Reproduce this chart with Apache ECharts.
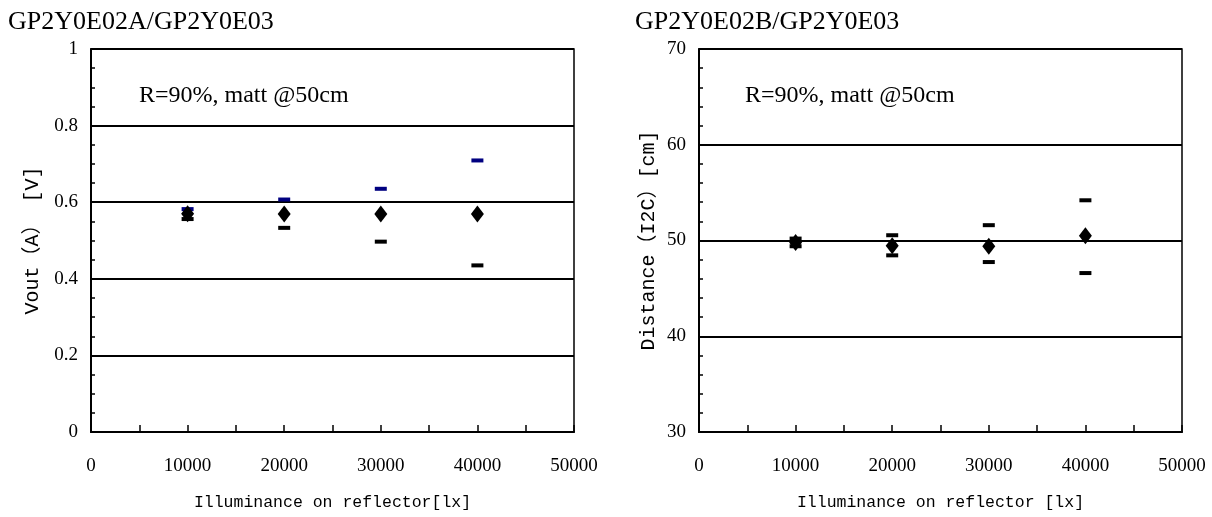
<!DOCTYPE html>
<html>
<head>
<meta charset="utf-8">
<script src="https://cdn.jsdelivr.net/npm/echarts@6/dist/echarts.min.js"></script>
<style>
html,body{margin:0;padding:0;background:#fff;}
#chart{width:1212px;height:517px;}
</style>
</head>
<body>
<div id="chart"></div>
<script>
// ---- data ----
const illuminance = [10000, 20000, 30000, 40000];

const voutAvg = [0.570, 0.569, 0.569, 0.569];
const voutMax = [0.582, 0.607, 0.635, 0.709];
const voutMin = [0.556, 0.533, 0.497, 0.435];

const distAvg = [49.8, 49.45, 49.4, 50.5];
const distMax = [50.2, 50.55, 51.6, 54.2];
const distMin = [49.4, 48.45, 47.75, 46.6];

const titles = ['GP2Y0E02A/GP2Y0E03', 'GP2Y0E02B/GP2Y0E03'];
const note = 'R=90%, matt @50cm';

// ---- helpers ----
const pairs = (xs, ys) => xs.map((x, i) => [x, ys[i]]);
const monoFont = "'Liberation Mono', 'Noto Sans CJK JP', monospace";
const serifFont = "'Liberation Serif', 'Times New Roman', serif";

function xAxisCfg(gridIndex, name) {
  return {
    type: 'value', gridIndex, min: 0, max: 50000, interval: 10000,
    name, nameLocation: 'middle', nameGap: 62,
    nameTextStyle: { fontFamily: monoFont, fontSize: 16.5, color: '#000' },
    axisLine: { show: true, onZero: false, lineStyle: { color: '#000', width: 2 } },
    axisTick: { show: true, inside: true, length: 7, lineStyle: { color: '#000', width: 1.5 } },
    minorTick: { show: true, splitNumber: 2, length: 7, lineStyle: { color: '#000', width: 1.5 } },
    axisLabel: { fontFamily: serifFont, fontSize: 19, color: '#000', margin: 25, formatter: v => String(v) },
    splitLine: { show: false }
  };
}
function yAxisCfg(gridIndex, min, max, interval, minorSplit, name, nameGap, fmt) {
  return {
    type: 'value', gridIndex, min, max, interval,
    name, nameLocation: 'middle', nameRotate: 90, nameGap,
    nameTextStyle: { fontFamily: monoFont, fontSize: 20, color: '#000' },
    axisLine: { show: true, onZero: false, lineStyle: { color: '#000', width: 2 } },
    axisTick: { show: true, inside: true, length: 4, lineStyle: { color: '#000', width: 1.5 } },
    minorTick: { show: true, splitNumber: minorSplit, length: 4, lineStyle: { color: '#000', width: 1.5 } },
    axisLabel: { fontFamily: serifFont, fontSize: 19, color: '#000', margin: 13, formatter: fmt },
    splitLine: { show: true, lineStyle: { color: '#000', width: 2 } }
  };
}
function dashSeries(xi, yi, data, color) {
  return {
    type: 'scatter', xAxisIndex: xi, yAxisIndex: yi, data,
    symbol: 'rect', symbolSize: [12, 4],
    itemStyle: { color, opacity: 1 }, silent: true, z: 3
  };
}
function diamondSeries(xi, yi, data) {
  return {
    type: 'scatter', xAxisIndex: xi, yAxisIndex: yi, data,
    symbol: 'diamond', symbolSize: [13, 17],
    itemStyle: { color: '#000', opacity: 1 }, silent: true, z: 4
  };
}

const chart = echarts.init(document.getElementById('chart'), null, { renderer: 'canvas' });
chart.setOption({
  backgroundColor: '#fff',
  animation: false,
  title: [
    { text: titles[0], left: 8, top: 9, padding: 0, textStyle: { fontFamily: serifFont, fontSize: 26, fontWeight: 'normal', color: '#000' } },
    { text: titles[1], left: 635, top: 9, padding: 0, textStyle: { fontFamily: serifFont, fontSize: 26, fontWeight: 'normal', color: '#000' } },
    { text: note, left: 139, top: 84, padding: 0, textStyle: { fontFamily: serifFont, fontSize: 24, fontWeight: 'normal', color: '#000' } },
    { text: note, left: 745, top: 84, padding: 0, textStyle: { fontFamily: serifFont, fontSize: 24, fontWeight: 'normal', color: '#000' } }
  ],
  grid: [
    { left: 91, top: 49, width: 483, height: 383, show: true, borderColor: '#000', borderWidth: 1.5, backgroundColor: 'transparent' },
    { left: 699, top: 49, width: 483, height: 383, show: true, borderColor: '#000', borderWidth: 1.5, backgroundColor: 'transparent' }
  ],
  xAxis: [
    xAxisCfg(0, 'Illuminance on reflector[lx]'),
    xAxisCfg(1, 'Illuminance on reflector [lx]')
  ],
  yAxis: [
    yAxisCfg(0, 0, 1, 0.2, 4, 'Vout（A） [V]', 48, v => (v === 0 || v === 1) ? String(v) : v.toFixed(1)),
    yAxisCfg(1, 30, 70, 10, 5, 'Distance（I2C）[cm]', 40, v => String(v))
  ],
  series: [
    dashSeries(0, 0, pairs(illuminance, voutMax), '#000080'),
    dashSeries(0, 0, pairs(illuminance, voutMin), '#000'),
    diamondSeries(0, 0, pairs(illuminance, voutAvg)),
    dashSeries(1, 1, pairs(illuminance, distMax), '#000'),
    dashSeries(1, 1, pairs(illuminance, distMin), '#000'),
    diamondSeries(1, 1, pairs(illuminance, distAvg))
  ]
});
</script>
</body>
</html>
